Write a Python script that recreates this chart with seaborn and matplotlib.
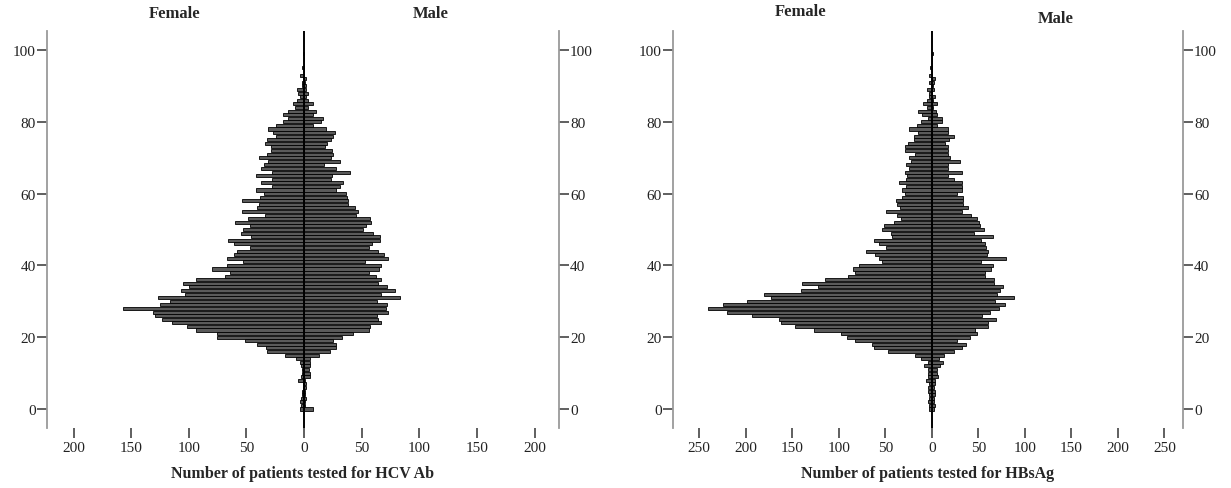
import matplotlib
matplotlib.use("Agg")
import matplotlib.pyplot as plt
import numpy as np
import pandas as pd
import seaborn as sns
from matplotlib.ticker import FuncFormatter

# ages 0..99, one bar per year of age
ages = list(range(100))

# HCV Ab, patients tested by age
hcv_female = [4, 3, 4, 3, 2, 2, 1, 1, 5, 3, 2, 2, 3, 4, 7, 17, 32, 33, 41, 51,
              76, 76, 94, 102, 115, 123, 129, 131, 157, 125, 116, 127, 103, 107, 100, 105, 94, 69, 64, 80,
              67, 53, 67, 61, 58, 47, 61, 66, 46, 55, 53, 47, 60, 49, 34, 54, 41, 39, 54, 38,
              35, 42, 28, 37, 28, 42, 28, 37, 35, 31, 39, 32, 29, 29, 34, 32, 24, 27, 31, 24,
              18, 14, 18, 14, 8, 10, 6, 4, 5, 6, 2, 2, 1, 4, 0, 2, 0, 0, 0, 1]
hcv_male = [8, 1, 1, 2, 1, 1, 2, 2, 1, 5, 5, 4, 5, 5, 5, 13, 22, 28, 28, 25,
            33, 42, 56, 57, 67, 64, 63, 73, 71, 72, 63, 83, 67, 79, 72, 64, 67, 62, 56, 65,
            67, 53, 73, 69, 64, 56, 59, 66, 66, 60, 51, 54, 58, 57, 45, 47, 44, 38, 38, 37,
            36, 28, 31, 34, 23, 24, 40, 28, 17, 31, 23, 25, 24, 18, 20, 23, 25, 27, 19, 8,
            15, 16, 8, 10, 3, 8, 3, 2, 3, 2, 2, 1, 2, 0, 0, 0, 0, 0, 0, 0]

# HBsAg, patients tested by age
hbs_female = [3, 3, 4, 3, 3, 4, 4, 3, 6, 4, 4, 4, 8, 4, 12, 18, 47, 62, 64, 82,
              91, 97, 127, 147, 162, 164, 193, 220, 240, 224, 198, 173, 180, 140, 122, 139, 115, 90, 82, 85,
              78, 53, 57, 61, 71, 49, 57, 62, 43, 44, 53, 51, 41, 33, 37, 49, 34, 37, 38, 32,
              29, 32, 28, 35, 28, 27, 29, 24, 28, 22, 24, 18, 29, 29, 25, 19, 19, 15, 24, 16,
              12, 4, 10, 15, 5, 9, 5, 3, 3, 5, 1, 3, 1, 3, 0, 2, 0, 0, 0, 0]
hbs_male = [2, 3, 2, 2, 3, 3, 2, 3, 3, 7, 6, 6, 9, 12, 8, 13, 24, 33, 37, 27,
            41, 49, 47, 61, 60, 69, 54, 63, 72, 79, 68, 88, 70, 73, 77, 67, 67, 57, 57, 64,
            66, 53, 80, 59, 60, 58, 57, 53, 66, 45, 56, 52, 51, 49, 42, 33, 39, 34, 34, 34,
            27, 33, 33, 33, 24, 17, 32, 17, 17, 30, 20, 18, 18, 18, 14, 19, 24, 17, 17, 6,
            11, 11, 6, 5, 1, 6, 1, 3, 0, 2, 1, 2, 3, 0, 0, 0, 0, 0, 0, 1]

y_ticks = [0, 20, 40, 60, 80, 100]
hcv_xticks = [-200, -150, -100, -50, 0, 50, 100, 150, 200]
hbs_xticks = [-250, -200, -150, -100, -50, 0, 50, 100, 150, 200, 250]

sns.set_theme(style="white")
plt.rcParams["font.family"] = ["Liberation Serif", "DejaVu Serif"]

W, H = 1231, 489
fig = plt.figure(figsize=(W / 100, H / 100), dpi=100)


def px_axes(x0, x1, y0, y1):
    # axes placed by pixel box (left, right, top, bottom)
    return fig.add_axes([x0 / W, 1 - y1 / H, (x1 - x0) / W, (y1 - y0) / H])


def pyramid(ax, female, male, xticks, xlim, xlabel):
    df = pd.DataFrame({"age": ages, "female": female, "male": male})
    bar_kw = dict(orient="y", native_scale=True, width=0.85, color="#5a5a5a",
                  edgecolor="#000000", linewidth=0.6, errorbar=None, ax=ax)
    sns.barplot(data=df.assign(female=-df["female"]), x="female", y="age", **bar_kw)
    sns.barplot(data=df, x="male", y="age", **bar_kw)
    ax.axvline(0, color="black", lw=1.4, zorder=4)

    ax.set_xlim(*xlim)
    ax.set_ylim(-5.3, 105.3)
    ax.set_xticks(xticks)
    ax.set_yticks(y_ticks)
    ax.xaxis.set_major_formatter(FuncFormatter(lambda v, p: f"{abs(v):g}"))
    ax.set_xlabel(xlabel, fontsize=11.5, fontweight="bold", labelpad=8)
    ax.set_ylabel("")

    for s in ["top", "bottom"]:
        ax.spines[s].set_visible(False)
    for s in ["left", "right"]:
        ax.spines[s].set_color("#9a9a9a")
        ax.spines[s].set_linewidth(1.3)

    ax.tick_params(axis="y", left=True, right=True, labelleft=True, labelright=True,
                   direction="out", length=7, width=1.2, pad=1, color="#444444",
                   labelsize=11, labelcolor="#222222")
    ax.tick_params(axis="x", bottom=True, direction="out", length=7, width=1.2,
                   pad=2, color="#444444", labelsize=11, labelcolor="#222222")
    ax.grid(False)


ax1 = px_axes(47, 559, 32, 429)
pyramid(ax1, hcv_female, hcv_male, hcv_xticks, (-223, 221),
        "Number of patients tested for HCV Ab")

ax2 = px_axes(673, 1183, 32, 429)
pyramid(ax2, hbs_female, hbs_male, hbs_xticks, (-278, 270),
        "Number of patients tested for HBsAg")

# Female / Male headings over each half
fig.text(175 / W, 1 - 14 / H, "Female", ha="center", va="center", fontsize=12, fontweight="bold")
fig.text(431 / W, 1 - 14 / H, "Male", ha="center", va="center", fontsize=12, fontweight="bold")
fig.text(801 / W, 1 - 12 / H, "Female", ha="center", va="center", fontsize=12, fontweight="bold")
fig.text(1056 / W, 1 - 19 / H, "Male", ha="center", va="center", fontsize=12, fontweight="bold")

fig.savefig("out.png", dpi=100)
plt.close(fig)
